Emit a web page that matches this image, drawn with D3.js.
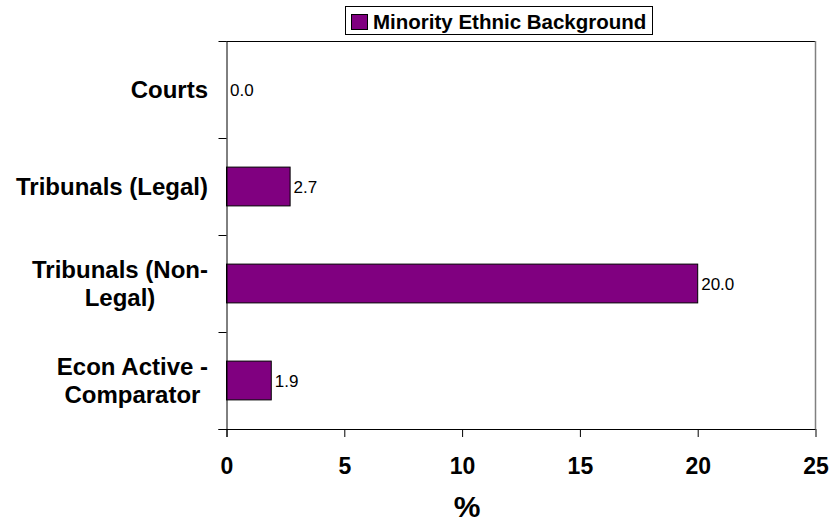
<!DOCTYPE html>
<html><head><meta charset="utf-8">
<script src="https://cdn.jsdelivr.net/npm/d3@7"></script>
<style>body{margin:0;background:#fff}svg{display:block}text{font-family:Arial,"Liberation Sans",sans-serif}</style>
</head><body>
<svg id="c" width="829" height="522"></svg>
<script>
const categories = [["Courts"], ["Tribunals (Legal)"], ["Tribunals (Non-", "Legal)"], ["Econ Active -", "Comparator"]];
const values = [0.0, 2.7, 20.0, 1.9];
const xTicks = [0, 5, 10, 15, 20, 25];
const seriesName = "Minority Ethnic Background";
const xTitle = "%";

const svg = d3.select("#c");
const L = 226.5, R = 815.5, T = 41, B = 429;
const x = d3.scaleLinear().domain([0, 25]).range([L, R]);
const y = d3.scaleBand().domain(d3.range(categories.length)).range([T, B]).paddingInner(0.6).paddingOuter(0.3);
const yb = d3.scaleBand().domain(d3.range(categories.length)).range([T, B]);

// frame
svg.append("line").attr("x1", L).attr("x2", R).attr("y1", T + 0.5).attr("y2", T + 0.5).attr("stroke", "#000");
svg.append("line").attr("x1", R).attr("x2", R).attr("y1", T).attr("y2", B).attr("stroke", "#808080").attr("stroke-width", 1.5);

// bars
svg.selectAll("rect.bar").data(values).join("rect").attr("class", "bar")
  .attr("x", x(0)).attr("y", (d, i) => y(i))
  .attr("width", d => x(d) - x(0)).attr("height", y.bandwidth())
  .attr("fill", "#800080").attr("stroke", "#000").attr("stroke-width", 1);

// value labels
svg.selectAll("text.val").data(values).join("text").attr("class", "val")
  .attr("x", d => x(d) + 3.5).attr("y", (d, i) => y(i) + y.bandwidth() / 2 + 6)
  .attr("font-size", 17).attr("fill", "#000").text(d => d.toFixed(1));

// x axis
const xa = svg.append("g").attr("transform", `translate(0,${B})`)
  .call(d3.axisBottom(x).tickValues(xTicks).tickSize(8).tickSizeOuter(0).tickFormat(d3.format("d")));
xa.select(".domain").attr("d", `M${L - 8},0.5H${R}`).attr("stroke", "#000");
xa.selectAll(".tick line").attr("stroke", "#000");
xa.selectAll(".tick text").attr("font-size", 23).attr("font-weight", "bold").attr("fill", "#000")
  .attr("y", 0).attr("dy", 0).attr("transform", "translate(0,45) scale(1,1.05)");

// y axis
const ya = svg.append("g").attr("transform", `translate(${L},0)`);
ya.append("line").attr("x1", 0.5).attr("x2", 0.5).attr("y1", T).attr("y2", B + 8).attr("stroke", "#000");
const yTickPos = d3.range(categories.length + 1).map(i => i < categories.length ? yb(i) : B);
ya.selectAll("line.t").data(yTickPos).join("line").attr("class", "t")
  .attr("x1", -8).attr("x2", 0).attr("y1", d => Math.round(d) + 0.5).attr("y2", d => Math.round(d) + 0.5).attr("stroke", "#000");

// category labels
const labelRight = 208;
categories.forEach((lines, i) => {
  const cy = yb(i) + yb.bandwidth() / 2;
  const lh = 28.5;
  const g = svg.append("g");
  const texts = lines.map((s, k) => g.append("text").attr("font-size", 24).attr("font-weight", "bold")
    .attr("fill", "#000").attr("text-anchor", "middle")
    .attr("y", cy + 8.5 + (k - (lines.length - 1) / 2) * lh).text(s));
  const w = d3.max(texts, t => t.node().getComputedTextLength());
  texts.forEach(t => t.attr("x", labelRight - w / 2));
});

// x title
svg.append("text").attr("x", 467).attr("y", 517).attr("text-anchor", "middle")
  .attr("font-size", 30).attr("font-weight", "bold").attr("fill", "#000").text(xTitle);

// legend
const lg = svg.append("g");
lg.append("rect").attr("x", 345.5).attr("y", 6.5).attr("width", 307).attr("height", 28).attr("fill", "#fff").attr("stroke", "#000");
lg.append("rect").attr("x", 351.5).attr("y", 14.5).attr("width", 16).attr("height", 15).attr("fill", "#800080").attr("stroke", "#000");
lg.append("text").attr("x", 373).attr("y", 29).attr("font-size", 20.5).attr("font-weight", "bold").attr("fill", "#000").text(seriesName);
</script>
</body></html>
